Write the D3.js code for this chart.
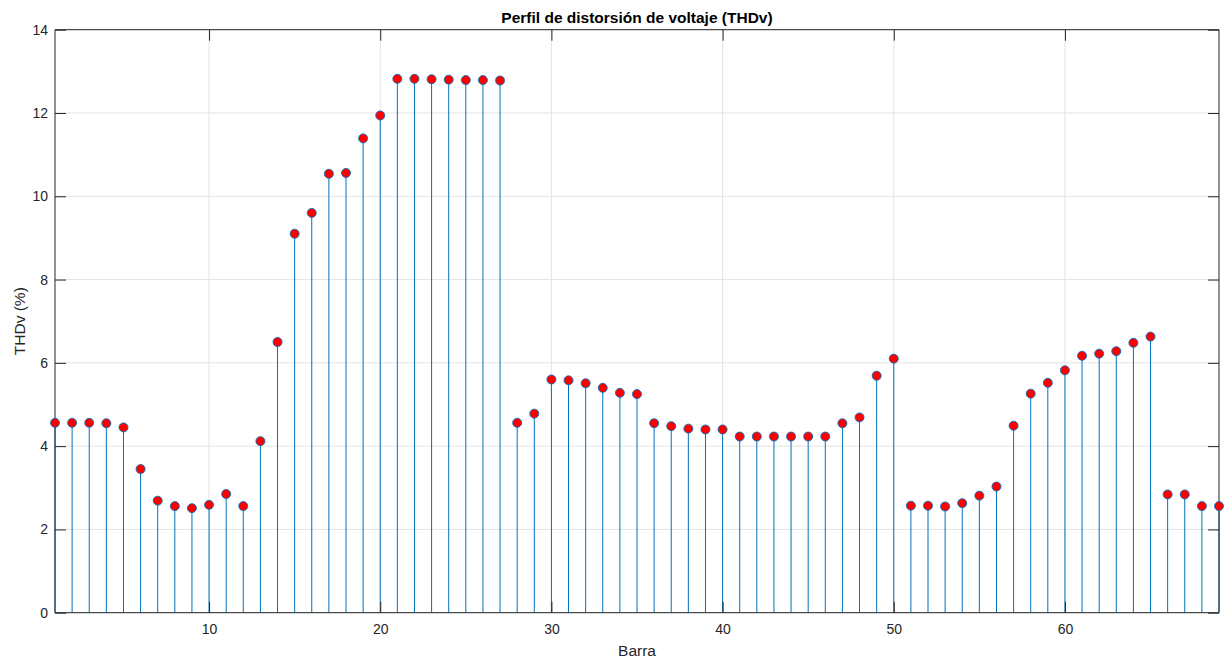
<!DOCTYPE html>
<html><head><meta charset="utf-8">
<script src="https://cdn.jsdelivr.net/npm/d3@7"></script>
<style>
html,body{margin:0;padding:0;background:#fff;}
svg{display:block;font-family:"Liberation Sans",Arial,Helvetica,sans-serif;}
</style></head>
<body><svg id="c" width="1224" height="662"></svg>
<script>
const barras = d3.range(1, 70);
const thdv = [4.56,4.56,4.56,4.55,4.45,3.45,2.69,2.56,2.51,2.59,2.85,2.56,4.12,
  6.50,9.10,9.60,10.54,10.56,11.39,11.94,12.82,12.82,12.81,12.80,12.79,12.79,12.78,
  4.56,4.78,5.60,5.58,5.51,5.40,5.28,5.25,4.55,4.48,4.42,4.40,4.40,4.23,4.23,4.23,4.23,4.23,4.23,
  4.55,4.69,5.69,6.10,2.57,2.57,2.55,2.63,2.81,3.03,4.49,5.26,5.52,5.82,6.17,6.22,6.28,6.48,6.63,
  2.84,2.84,2.56,2.56];
const xTicks = [10,20,30,40,50,60];
const yTicks = [0,2,4,6,8,10,12,14];
const titleText = "Perfil de distorsión de voltaje (THDv)";
const xLabel = "Barra";
const yLabel = "THDv (%)";

const W=1224,H=662;
const m={l:55,r:5,t:29.7,b:49.3};
const svg=d3.select("#c");
const x=d3.scaleLinear().domain([1,69]).range([m.l,W-m.r]);
const y=d3.scaleLinear().domain([0,14]).range([H-m.b,m.t]);
const axc="#262626";
const tickLen=11;

// grid
const g=svg.append("g");
g.selectAll(".gx").data(xTicks).join("line")
 .attr("x1",d=>x(d)).attr("x2",d=>x(d)).attr("y1",y(0)).attr("y2",y(14))
 .attr("stroke","#e3e3e3").attr("stroke-width",1);
g.selectAll(".gy").data(yTicks).join("line")
 .attr("x1",x(1)).attr("x2",x(69)).attr("y1",d=>y(d)).attr("y2",d=>y(d))
 .attr("stroke","#e3e3e3").attr("stroke-width",1);

// stems
svg.append("g").selectAll("line").data(barras).join("line")
 .attr("x1",d=>x(d)).attr("x2",d=>x(d))
 .attr("y1",y(0)).attr("y2",(d,i)=>y(thdv[i]))
 .attr("stroke","#0072BD").attr("stroke-width",1);

// axes
const ax=svg.append("g");
const xb=d3.axisBottom(x).tickValues(xTicks).tickSize(-tickLen).tickPadding(11).tickFormat(d3.format("d"));
const xt=d3.axisTop(x).tickValues(xTicks).tickSize(-tickLen).tickFormat("");
const yl=d3.axisLeft(y).tickValues(yTicks).tickSize(-tickLen).tickPadding(7).tickFormat(d3.format("d"));
const yr=d3.axisRight(y).tickValues(yTicks).tickSize(-tickLen).tickFormat("");
function style(sel){
  sel.selectAll("path").attr("stroke",axc).attr("stroke-width",1);
  sel.selectAll("line").attr("stroke",axc).attr("stroke-width",1);
  sel.selectAll("text").attr("fill",axc).attr("font-size",14).attr("font-family","Liberation Sans, Arial, sans-serif");
}
ax.append("g").attr("transform",`translate(0,${y(0)})`).call(xb).call(style).call(s=>s.select(".domain").attr("d",`M${x(1)},0H${x(69)}`));
ax.append("g").attr("transform",`translate(0,${y(14)})`).call(xt).call(style).call(s=>s.select(".domain").attr("d",`M${x(1)},0H${x(69)}`));
ax.append("g").attr("transform",`translate(${x(1)},0)`).call(yl).call(style).call(s=>s.select(".domain").attr("d",`M0,${y(0)}V${y(14)}`));
ax.append("g").attr("transform",`translate(${x(69)},0)`).call(yr).call(style).call(s=>s.select(".domain").attr("d",`M0,${y(0)}V${y(14)}`));

// markers
svg.append("g").selectAll("circle").data(barras).join("circle")
 .attr("cx",d=>x(d)).attr("cy",(d,i)=>y(thdv[i])).attr("r",4.5)
 .attr("fill","#ff0000").attr("stroke","#0072BD").attr("stroke-width",0.9);

// labels
svg.append("text").attr("x",(x(1)+x(69))/2).attr("y",23).attr("text-anchor","middle")
 .attr("font-size",15.5).attr("font-weight","bold").attr("fill","#000").text(titleText);
svg.append("text").attr("x",(x(1)+x(69))/2).attr("y",656).attr("text-anchor","middle")
 .attr("font-size",15.5).attr("fill",axc).text(xLabel);
svg.append("text").attr("transform",`translate(25,${(y(0)+y(14))/2}) rotate(-90)`).attr("text-anchor","middle")
 .attr("font-size",15.5).attr("fill",axc).text(yLabel);
</script></body></html>
